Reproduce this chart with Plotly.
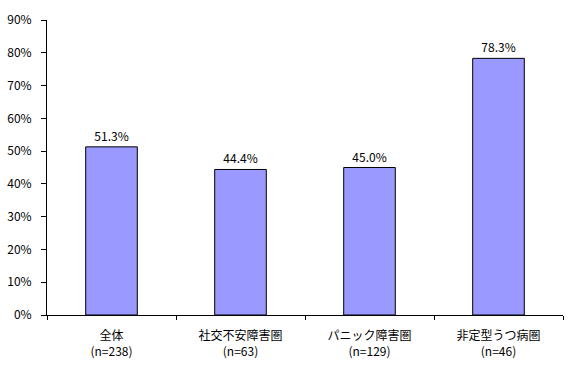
import plotly.graph_objects as go

categories = ["全体<br>(n=238)", "社交不安障害圏<br>(n=63)", "パニック障害圏<br>(n=129)", "非定型うつ病圏<br>(n=46)"]
values = [51.3, 44.4, 45.0, 78.3]
tick_vals = [0, 10, 20, 30, 40, 50, 60, 70, 80, 90]
tick_text = [f"{v}%" for v in tick_vals]

font = "Noto Sans CJK JP, sans-serif"

fig = go.Figure(go.Bar(
    x=categories, y=values,
    marker=dict(color="#9999FF", line=dict(color="black", width=1)),
    width=0.4,
    text=[f"{v:.1f}%" for v in values],
    textposition="outside",
    textfont=dict(family=font, size=12, color="black"),
    cliponaxis=False,
))

fig.update_layout(
    width=574, height=367,
    margin=dict(l=47, r=11, t=20, b=52),
    paper_bgcolor="white", plot_bgcolor="white",
    font=dict(family=font, size=12, color="black"),
    showlegend=False,
)
fig.update_xaxes(
    showline=True, linecolor="black", linewidth=1,
    ticks="outside", tickson="boundaries", ticklen=4, tickcolor="black",
    tickfont=dict(family=font, size=12),
    ticklabelstandoff=10,
    automargin=False,
    showgrid=False,
)
fig.update_yaxes(
    range=[0, 90], tickvals=tick_vals, ticktext=tick_text,
    showline=True, linecolor="black", linewidth=1,
    ticks="outside", ticklen=5, tickcolor="black",
    tickfont=dict(family=font, size=12),
    ticklabelstandoff=7,
    automargin=False,
    showgrid=False, zeroline=False,
)

fig.write_html("out.html")
